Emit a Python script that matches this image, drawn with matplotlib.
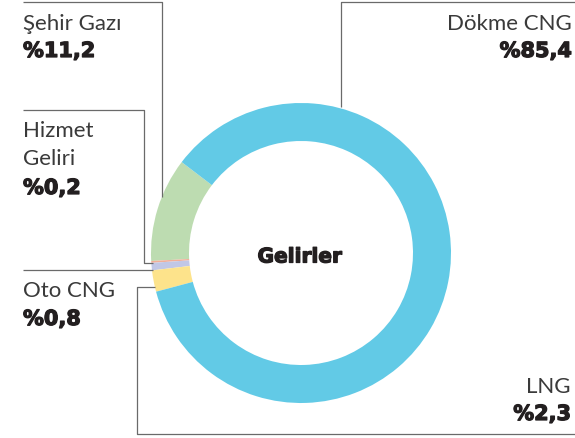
import matplotlib.pyplot as plt
import matplotlib.patheffects as pe

# gelir dağılımı
labels = ['Şehir Gazı', 'Hizmet\nGeliri', 'Oto CNG', 'LNG', 'Dökme CNG']
values = [11.2, 0.2, 0.8, 2.3, 85.4]
value_text = ['%11,2', '%0,2', '%0,8', '%2,3', '%85,4']
colors = ['#bddcb1', '#f2ae98', '#c1c7e6', '#fde38b', '#62cae6']
center_title = 'Gelirler'

W, H = 575, 439


def Y(y):
    # görüntü pikselinden veri koordinatına
    return H - y


fig = plt.figure(figsize=(W / 100, H / 100), dpi=100)
ax = fig.add_axes([0, 0, 1, 1])

ax.pie(values, colors=colors, startangle=142.7, counterclock=True,
       center=(301, Y(254)), radius=150,
       wedgeprops=dict(width=38, linewidth=0))
ax.set_xlim(0, W)
ax.set_ylim(0, H)
ax.set_aspect('equal')
ax.axis('off')

line_kw = dict(color='#6a6a6a', lw=0.9, solid_capstyle='butt')

# bağlantı çizgileri
ax.plot([23, 162, 162], [Y(3), Y(3), Y(198)], **line_kw)
ax.plot([23, 144, 144, 153], [Y(111), Y(111), Y(264), Y(264)], **line_kw)
ax.plot([23, 153], [Y(271), Y(271)], **line_kw)
ax.plot([155, 137, 137, W], [Y(288), Y(288), Y(435), Y(435)], **line_kw)
ax.plot([W, 341, 341], [Y(3), Y(3), Y(108)], **line_kw)

heavy = [pe.withStroke(linewidth=0.9, foreground='#231f20')]
name_kw = dict(family='Lato', weight='normal', fontsize=16, color='#3a3a3a')
val_kw = dict(family='DejaVu Sans', weight='bold', fontsize=15, color='#231f20',
              path_effects=heavy)

# (x, isim satırı, değer satırı, hizalama)
spots = [
    (23, 30, 58, 'left'),
    (23, 137, 195, 'left'),
    (23, 297, 326, 'left'),
    (571, 393, 421, 'right'),
    (572, 30, 58, 'right'),
]
for lab, val, (x, yn, yv, ha) in zip(labels, value_text, spots):
    if '\n' in lab:
        a, b = lab.split('\n')
        ax.text(x, Y(yn), a, ha=ha, va='baseline', **name_kw)
        ax.text(x, Y(yn + 28), b, ha=ha, va='baseline', **name_kw)
    else:
        ax.text(x, Y(yn), lab, ha=ha, va='baseline', **name_kw)
    ax.text(x, Y(yv), val, ha=ha, va='baseline', **val_kw)

ax.text(300, Y(258), center_title, ha='center', va='center',
        family='DejaVu Sans', weight='bold', fontsize=14.5, color='#231f20',
        path_effects=heavy)

fig.savefig('out.png', dpi=100)
